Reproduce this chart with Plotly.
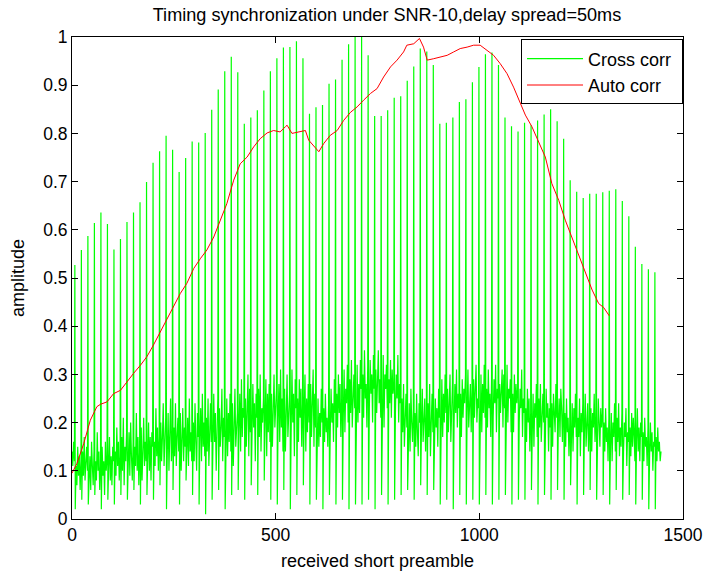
import plotly.graph_objects as go

# ---------------- data ----------------
# Cross correlation: one large peak per 16-sample period
cc_period = 16
cc_first_peak = 7
cc_start = [0.14, 0.11, 0.16, 0.12]          # samples 0,2,4,6 before first peak
cc_peaks = [
    0.527, 0.558, 0.587, 0.614, 0.636, 0.612, 0.559, 0.581, 0.616, 0.636,
    0.657, 0.699, 0.739, 0.763, 0.795, 0.766, 0.720, 0.749, 0.783, 0.781,
    0.801, 0.849, 0.891, 0.929, 0.959, 0.927, 0.820, 0.833, 0.848, 0.889,
    0.929, 0.956, 0.978, 0.979, 0.991, 0.956, 0.841, 0.854, 0.859, 0.903,
    0.912, 0.953, 0.985, 1.000, 1.000, 0.962, 0.836, 0.836, 0.848, 0.874,
    0.877, 0.909, 0.939, 0.976, 0.970, 0.942, 0.820, 0.822, 0.833, 0.865,
    0.871, 0.906, 0.938, 0.964, 0.968, 0.942, 0.833, 0.815, 0.804, 0.822,
    0.817, 0.827, 0.839, 0.850, 0.825, 0.789, 0.703, 0.679, 0.666, 0.675,
    0.675, 0.678, 0.681, 0.684, 0.660, 0.628, 0.565, 0.529, 0.518, 0.512,
]
# per period: dip after the peak, then 7 noise-band samples (hundredths)
cc_band_rows = [
    "2 11 7 15 9 13 6 12", "4 14 9 17 8 12 15 10", "3 9 13 6 16 11 7 14",
    "5 12 8 18 10 14 6 11", "2 15 9 12 5 16 10 13", "4 10 17 8 13 7 15 12",
    "3 14 9 19 11 16 8 13", "5 17 10 21 7 15 12 18", "4 12 18 9 20 13 8 16",
    "6 15 11 22 10 17 7 14", "3 19 8 14 21 11 16 12", "5 13 20 10 17 8 18 15",
    "4 16 11 23 13 19 10 17", "7 20 12 17 24 11 15 21", "2 14 22 10 18 25 12 16",
    "6 19 13 24 11 17 21 14", "3 22 10 16 23 12 19 15", "8 15 21 11 25 14 18 12",
    "5 20 12 24 16 10 22 17", "3 17 23 12 26 15 20 13", "1 21 14 25 11 19 24 16",
    "4 13 26 16 22 10 20 25", "6 23 15 19 27 12 21 17", "2 18 25 13 22 16 26 14",
    "5 24 11 20 27 15 18 22", "6 19 26 14 29 17 23 21", "4 25 15 22 30 13 27 18",
    "7 16 28 19 24 12 26 21", "5 27 17 30 14 23 20 25", "8 20 29 13 26 18 28 16",
    "4 26 15 23 30 19 22 27", "3 21 28 16 31 19 25 14", "6 27 14 24 30 17 22 26",
    "2 18 31 20 26 13 29 23", "5 25 16 29 21 27 15 24", "7 22 30 14 25 18 28 20",
    "3 28 17 23 31 15 26 19", "4 19 25 15 22 17 27 20", "2 23 16 26 18 21 15 24",
    "5 18 27 20 24 16 29 22", "3 26 19 30 22 28 17 25", "4 21 31 18 27 24 32 20",
    "2 29 22 33 19 26 30 23", "3 24 32 20 28 22 33 27", "3 30 21 35 25 28 19 32",
    "4 23 33 26 30 20 34 27", "2 31 22 28 35 24 29 21", "5 26 34 19 30 27 32 23",
    "3 29 24 33 21 31 26 28", "4 22 30 25 34 20 28 24", "5 25 18 28 15 22 26 19",
    "6 17 24 14 27 20 16 23", "4 22 15 26 18 13 24 20", "7 19 27 16 21 25 14 22",
    "5 24 17 28 13 20 26 18", "6 16 25 19 23 15 27 21", "3 23 29 17 26 20 30 22",
    "4 27 18 25 30 16 24 28", "2 20 28 22 31 19 26 23", "5 26 17 29 21 27 24 30",
    "3 22 31 19 25 28 18 27", "4 29 21 27 32 20 25 23", "3 24 30 18 28 22 32 21",
    "5 27 19 31 23 26 17 29", "3 21 29 24 32 18 27 25", "4 28 22 26 31 19 30 23",
    "5 23 32 20 27 25 29 18", "3 26 18 30 22 28 24 27", "4 20 27 23 31 17 25 22",
    "4 23 16 27 20 25 14 22", "6 18 26 15 24 21 28 17", "3 25 19 28 16 22 26 20",
    "5 17 27 21 24 14 23 19", "4 24 15 26 22 18 28 21", "6 20 25 17 27 23 16 24",
    "4 22 15 25 18 21 13 20", "7 16 24 14 23 19 26 17", "3 21 17 25 13 22 18 24",
    "5 18 26 15 21 24 14 20", "6 23 14 22 19 26 16 21", "4 17 25 20 15 23 19 22",
    "5 20 14 23 16 19 12 21", "3 15 22 12 20 17 24 14", "6 21 16 24 13 19 15 22",
    "4 14 20 17 23 11 18 16", "5 19 13 22 15 21 17 12", "3 16 23 14 19 12 20 17",
    "4 18 12 21 15 17 11 19", "2 13 20 14 18 10 16 15", "2 17 12 19 14 16 12 14",
]

# Auto correlation (red)
ac_x = [0, 12, 29, 45, 61, 70, 86, 102, 119, 135, 151, 168, 184, 200, 217, 233,
        250, 266, 282, 299, 315, 331, 348, 364, 380, 397, 413, 430, 446, 462,
        479, 495, 511, 524, 528, 540, 556, 573, 581, 597, 606, 618, 634, 651,
        667, 684, 700, 716, 733, 749, 765, 782, 798, 814, 822, 839, 853, 863,
        872, 888, 904, 921, 937, 953, 970, 986, 1002, 1019, 1035, 1051, 1068,
        1084, 1099, 1113, 1129, 1146, 1162, 1178, 1195, 1211, 1227, 1244, 1260,
        1277, 1293, 1305, 1319]
ac_y = [0.095, 0.115, 0.157, 0.205, 0.233, 0.238, 0.243, 0.260, 0.267, 0.285,
        0.302, 0.319, 0.337, 0.361, 0.388, 0.413, 0.440, 0.468, 0.489, 0.520,
        0.540, 0.558, 0.585, 0.620, 0.654, 0.703, 0.737, 0.751, 0.772, 0.789,
        0.801, 0.806, 0.803, 0.814, 0.817, 0.800, 0.803, 0.806, 0.786, 0.772,
        0.762, 0.779, 0.796, 0.806, 0.827, 0.844, 0.855, 0.869, 0.883, 0.893,
        0.917, 0.938, 0.952, 0.969, 0.983, 0.986, 0.997, 0.979, 0.952, 0.955,
        0.959, 0.962, 0.969, 0.976, 0.979, 0.983, 0.983, 0.972, 0.962, 0.945,
        0.924, 0.896, 0.865, 0.838, 0.814, 0.782, 0.751, 0.696, 0.661, 0.620,
        0.585, 0.551, 0.516, 0.475, 0.447, 0.439, 0.4215]

x_ticks = [0, 500, 1000, 1500]
y_ticks = [0, 0.1, 0.2, 0.3, 0.4, 0.5, 0.6, 0.7, 0.8, 0.9, 1]

# ---------------- assemble cross-correlation samples ----------------
cc_x = [2 * i for i in range(len(cc_start))]
cc_y = list(cc_start)
for k, (pk, row) in enumerate(zip(cc_peaks, cc_band_rows)):
    p = cc_first_peak + cc_period * k
    vals = [int(v) / 100 for v in row.split()]
    cc_x += [p, p + 1] + [p + 3 + 2 * j for j in range(len(vals) - 1)]
    cc_y += [pk] + vals

FONT = "Liberation Sans, Arial, Helvetica, sans-serif"
NB = "\u00a0"

fig = go.Figure()
fig.add_trace(go.Scatter(x=cc_x, y=cc_y, mode="lines", name="Cross corr" + NB,
                         line=dict(color="#00ff00", width=1.2)))
fig.add_trace(go.Scatter(x=ac_x, y=ac_y, mode="lines", name="Auto corr" + NB,
                         line=dict(color="#ff0000", width=1)))

axis_common = dict(showline=True, linecolor="black", linewidth=1, mirror="allticks",
                   ticks="inside", ticklen=6, tickcolor="black", showgrid=False,
                   zeroline=False, tickfont=dict(family=FONT, size=17.5, color="black"))

fig.update_layout(
    width=704, height=573,
    margin=dict(l=72, r=21, t=37, b=54, autoexpand=False),
    paper_bgcolor="white", plot_bgcolor="white",
    font=dict(family=FONT, size=17.5, color="black"),
    title=dict(text="Timing synchronization under SNR-10,delay spread=50ms",
               x=0.5497, xanchor="center", y=0.975, yanchor="middle", yref="container",
               font=dict(family=FONT, size=18.1, color="black")),
    xaxis=dict(range=[0, 1500], tickvals=x_ticks, ticktext=[str(v) for v in x_ticks],
               title=dict(text="received short preamble", standoff=10,
                          font=dict(family=FONT, size=18)),
               **axis_common),
    yaxis=dict(range=[0, 1], tickvals=y_ticks, ticktext=[("%g" % v) for v in y_ticks],
               title=dict(text="amplitude", standoff=13, font=dict(family=FONT, size=18)),
               **axis_common),
    legend=dict(x=0.7349, xanchor="left", y=0.995, yanchor="top",
                bgcolor="white", bordercolor="black", borderwidth=1,
                itemwidth=56, font=dict(family=FONT, size=18, color="black"),
                tracegroupgap=0),
    showlegend=True,
)

fig.write_html("out.html")
